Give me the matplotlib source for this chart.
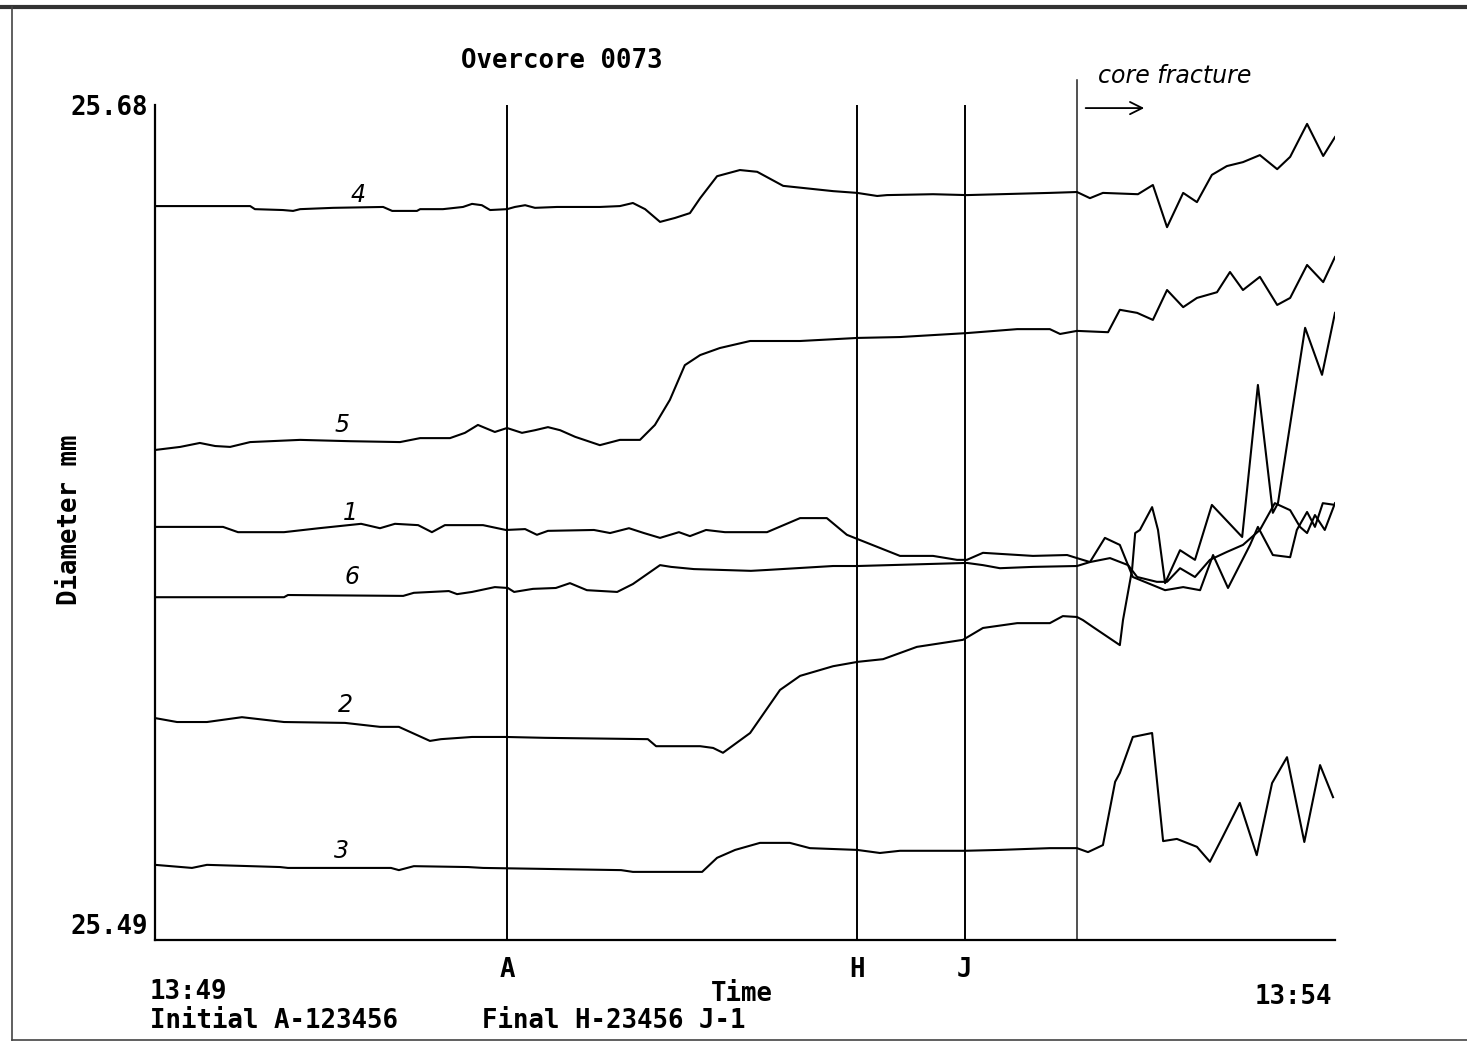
import matplotlib
matplotlib.use('Agg')
import matplotlib.pyplot as plt
from matplotlib.lines import Line2D

# ---------------- data (time in s after 13:49, diameter in mm) ----------------
s4_t = [0, 24.2, 25.4, 32.5, 35.1, 36.9, 45.3, 58.0, 60.3, 66.6, 67.4, 73.2, 78.3, 80.6, 83.1, 85.2,
        89.5, 91.5, 94.1, 96.6, 102.2, 113.1, 118.2, 121.5, 124.6, 128.4, 132.2, 136.0, 138.6, 142.9,
        148.7, 153.1, 159.7, 172.4, 178.5, 183.6, 186.1, 197.8, 206.4, 214.8, 227.5, 234.4, 237.7,
        241.0, 249.9, 253.7, 257.3, 261.4, 264.9, 268.7, 272.5, 276.6, 280.9, 285.3, 288.6, 292.9,
        297.0, 300.0]
s4_v = [25.6570, 25.6570, 25.6563, 25.6561, 25.6559, 25.6563, 25.6566, 25.6568, 25.6559, 25.6559,
        25.6563, 25.6563, 25.6568, 25.6575, 25.6572, 25.6561, 25.6563, 25.6568, 25.6572, 25.6566,
        25.6568, 25.6568, 25.6570, 25.6577, 25.6563, 25.6534, 25.6543, 25.6554, 25.6588, 25.6638,
        25.6652, 25.6648, 25.6616, 25.6604, 25.6600, 25.6593, 25.6595, 25.6597, 25.6595, 25.6597,
        25.6600, 25.6602, 25.6588, 25.6600, 25.6597, 25.6618, 25.6522, 25.6600, 25.6579, 25.6641,
        25.6661, 25.6670, 25.6686, 25.6654, 25.6682, 25.6757, 25.6684, 25.6727]

s5_t = [0, 6.4, 11.4, 15.3, 19.1, 24.2, 36.9, 49.6, 62.3, 67.4, 75.0, 78.8, 82.1, 86.4, 89.5, 93.3,
        96.6, 99.9, 103.0, 106.8, 113.1, 118.2, 123.3, 127.1, 130.9, 134.7, 138.6, 143.6, 151.3,
        164.0, 178.7, 189.4, 206.4, 219.2, 227.5, 230.1, 234.4, 242.3, 245.3, 249.7, 253.7, 257.3,
        261.4, 264.9, 270.0, 273.3, 276.6, 280.9, 285.3, 288.6, 292.9, 297.0, 300.0]
s5_v = [25.6015, 25.6022, 25.6031, 25.6024, 25.6022, 25.6033, 25.6038, 25.6035, 25.6033, 25.6042,
        25.6042, 25.6054, 25.6072, 25.6056, 25.6065, 25.6054, 25.6060, 25.6067, 25.6060, 25.6045,
        25.6026, 25.6038, 25.6038, 25.6072, 25.6129, 25.6208, 25.6231, 25.6247, 25.6263, 25.6263,
        25.6270, 25.6272, 25.6281, 25.6290, 25.6290, 25.6279, 25.6286, 25.6283, 25.6334, 25.6327,
        25.6311, 25.6379, 25.6340, 25.6361, 25.6374, 25.6420, 25.6379, 25.6409, 25.6345, 25.6361,
        25.6436, 25.6397, 25.6454]

s1_t = [0, 17.3, 21.1, 32.8, 41.7, 52.4, 57.2, 61.0, 66.9, 70.4, 73.7, 83.4, 89.2, 94.1, 97.1, 99.9,
        111.6, 115.7, 120.5, 124.3, 128.4, 133.2, 136.0, 140.1, 144.9, 155.6, 164.0, 170.8, 175.9,
        178.7, 189.4, 197.8, 203.9, 206.4, 210.5, 223.2, 231.9, 234.4, 237.7, 241.5, 245.3, 248.6,
        256.8, 261.4, 265.7, 269.0, 272.8, 278.4, 280.4, 284.2, 288.6, 290.3, 292.9, 294.9, 296.9,
        300.0]
s1_v = [25.5840, 25.5840, 25.5828, 25.5828, 25.5837, 25.5847, 25.5837, 25.5847, 25.5844, 25.5828,
        25.5844, 25.5844, 25.5833, 25.5835, 25.5822, 25.5831, 25.5833, 25.5826, 25.5837, 25.5826,
        25.5815, 25.5828, 25.5819, 25.5833, 25.5828, 25.5828, 25.5860, 25.5860, 25.5822, 25.5812,
        25.5774, 25.5774, 25.5765, 25.5765, 25.5781, 25.5774, 25.5776, 25.5769, 25.5760, 25.5815,
        25.5799, 25.5726, 25.5696, 25.5703, 25.5696, 25.5776, 25.5701, 25.5799, 25.5840, 25.5776,
        25.5771, 25.5833, 25.5874, 25.5840, 25.5894, 25.5890]

s6_t = [0, 32.8, 33.8, 63.1, 65.8, 74.7, 76.8, 80.6, 86.4, 89.7, 91.3, 96.1, 101.9, 105.5, 109.8,
        117.5, 121.5, 128.4, 131.2, 137.0, 151.5, 155.6, 172.4, 178.7, 206.4, 210.5, 214.8, 223.2,
        234.4, 237.7, 242.8, 247.4, 249.7, 254.7, 257.3, 260.6, 264.4, 268.2, 272.5, 276.6, 280.9,
        284.7, 288.6, 291.1, 292.9, 294.9, 297.4, 300.0]
s6_v = [25.5680, 25.5680, 25.5685, 25.5683, 25.5690, 25.5694, 25.5687, 25.5692, 25.5703, 25.5701,
        25.5692, 25.5699, 25.5701, 25.5712, 25.5696, 25.5692, 25.5710, 25.5753, 25.5749, 25.5744,
        25.5740, 25.5742, 25.5751, 25.5751, 25.5758, 25.5753, 25.5746, 25.5749, 25.5751, 25.5760,
        25.5769, 25.5753, 25.5726, 25.5715, 25.5715, 25.5746, 25.5726, 25.5765, 25.5783, 25.5799,
        25.5833, 25.5894, 25.5878, 25.5840, 25.5826, 25.5867, 25.5833, 25.5894]

s2_t = [0, 5.6, 13.2, 22.1, 32.8, 48.3, 57.2, 62.0, 69.9, 72.7, 80.6, 89.2, 99.2, 125.3, 127.4,
        138.6, 141.9, 144.4, 151.3, 158.9, 164.0, 172.4, 178.7, 185.1, 193.7, 205.4, 210.5, 219.2,
        227.5, 230.8, 234.4, 235.9, 238.5, 245.3, 246.1, 248.4, 249.2, 250.4, 253.5, 255.0, 256.8,
        260.6, 264.4, 268.7, 276.4, 280.4, 284.2, 285.5, 292.4, 296.7, 300.0]
s2_v = [25.5405, 25.5396, 25.5396, 25.5407, 25.5396, 25.5394, 25.5385, 25.5385, 25.5353, 25.5357,
        25.5362, 25.5362, 25.5360, 25.5357, 25.5341, 25.5341, 25.5337, 25.5326, 25.5371, 25.5469,
        25.5501, 25.5523, 25.5533, 25.5539, 25.5567, 25.5583, 25.5610, 25.5621, 25.5621, 25.5637,
        25.5635, 25.5628, 25.5612, 25.5571, 25.5628, 25.5742, 25.5826, 25.5833, 25.5885, 25.5833,
        25.5712, 25.5787, 25.5765, 25.5890, 25.5817, 25.6163, 25.5872, 25.5894, 25.6293, 25.6186,
        25.6327]

s3_t = [0, 9.4, 13.2, 31.8, 33.8, 60.0, 62.0, 65.8, 79.6, 83.4, 118.5, 121.5, 139.1, 142.9, 147.5,
        153.8, 161.4, 166.5, 178.5, 184.3, 189.4, 205.9, 214.8, 227.5, 234.4, 237.2, 241.0, 244.1,
        245.3, 248.6, 253.5, 256.3, 259.8, 264.9, 268.2, 271.3, 275.8, 280.1, 284.0, 287.8, 292.2,
        296.2, 299.5]
s3_v = [25.5071, 25.5064, 25.5071, 25.5066, 25.5064, 25.5064, 25.5059, 25.5068, 25.5066, 25.5064,
        25.5059, 25.5055, 25.5055, 25.5087, 25.5105, 25.5121, 25.5121, 25.5109, 25.5105, 25.5098,
        25.5103, 25.5103, 25.5105, 25.5109, 25.5109, 25.5100, 25.5116, 25.5260, 25.5280, 25.5362,
        25.5371, 25.5125, 25.5130, 25.5112, 25.5078, 25.5132, 25.5212, 25.5093, 25.5257, 25.5316,
        25.5123, 25.5298, 25.5225]

series_names = ['1', '2', '3', '4', '5', '6']
series_t = [s1_t, s2_t, s3_t, s4_t, s5_t, s6_t]
series_v = [s1_v, s2_v, s3_v, s4_v, s5_v, s6_v]
# hand-written label positions (time s, diameter mm)
label_t = [49.6, 48.3, 47.5, 51.6, 47.5, 50.1]
label_v = [25.5872, 25.5435, 25.5103, 25.6595, 25.6072, 25.5726]

event_names = ['A', 'H', 'J']
event_times = [89.5, 178.5, 205.9]
fracture_time = 234.4

y_min, y_max = 25.49, 25.68
t_start, t_end = 0, 300
time_start_label, time_end_label = '13:49', '13:54'
title = 'Overcore 0073'
note_initial = 'Initial A-123456'
note_final = 'Final H-23456 J-1'

# ---------------- figure ----------------
W, H = 1467, 1043
plt.rcParams['font.family'] = ['DejaVu Sans Mono']
plt.rcParams['font.weight'] = 'bold'
FS = 18.5

fig = plt.figure(figsize=(W / 100, H / 100), dpi=100)
fig.patch.set_facecolor('white')

def fx(px):
    return px / W

def fy(py):
    return 1 - py / H

ax = fig.add_axes([fx(155), fy(940), fx(1335) - fx(155), fy(105) - fy(940)])
ax.set_xlim(t_start, t_end)
ax.set_ylim(y_min, y_max)
for s in ['top', 'right']:
    ax.spines[s].set_visible(False)
for s in ['left', 'bottom']:
    ax.spines[s].set_linewidth(1.6)
    ax.spines[s].set_color('black')

# event lines
ax.vlines(event_times, y_min, y_max, color='black', lw=1.4)
ax.plot([fracture_time, fracture_time], [y_min, 25.6857], color='#222222', lw=1.1,
        clip_on=False)

# data lines
for t, v in zip(series_t, series_v):
    ax.plot(t, v, color='black', lw=1.5, solid_joinstyle='round')

for name, lt, lv in zip(series_names, label_t, label_v):
    ax.text(lt, lv, name, fontsize=17, fontstyle='italic', fontweight='normal',
            family=['DejaVu Sans'], ha='center', va='center')

# ticks
ax.set_xticks(event_times)
ax.set_xticklabels(event_names)
ax.tick_params(axis='x', length=0, pad=12, labelsize=FS)
ax.set_yticks([y_min, y_max])
ax.set_yticklabels(['25.49', '25.68'])
ax.tick_params(axis='y', length=0, pad=5, labelsize=FS)
ax.get_yticklabels()[0].set_va('bottom')

# texts
fig.text(fx(562), fy(61), title, ha='center', va='center', fontsize=FS)
fig.text(fx(70), fy(520), 'Diameter mm', ha='center', va='center', rotation=90, fontsize=FS)
fig.text(fx(150), fy(992), time_start_label, ha='left', va='center', fontsize=FS)
fig.text(fx(1332), fy(997), time_end_label, ha='right', va='center', fontsize=FS)
fig.text(fx(742), fy(994), 'Time', ha='center', va='center', fontsize=FS)
fig.text(fx(150), fy(1021), note_initial, ha='left', va='center', fontsize=FS)
fig.text(fx(482), fy(1021), note_final, ha='left', va='center', fontsize=FS)

# hand-written annotation
fig.text(fx(1175), fy(76), 'core fracture', ha='center', va='center', fontsize=17,
         fontstyle='italic', fontweight='normal', family=['DejaVu Sans'])
ax.annotate('', xy=(252.2, 25.6793), xytext=(235.9, 25.6793),
            arrowprops=dict(arrowstyle='->', lw=1.3, color='black', mutation_scale=22),
            annotation_clip=False)

# scan frame
fig.add_artist(Line2D([0, 1], [fy(7), fy(7)], transform=fig.transFigure, color='#333333', lw=3))
fig.add_artist(Line2D([fx(12), fx(12)], [fy(7), fy(1040)], transform=fig.transFigure,
                      color='#444444', lw=1.2))
fig.add_artist(Line2D([fx(12), 1], [fy(1040), fy(1040)], transform=fig.transFigure,
                      color='#444444', lw=1.2))

fig.savefig('out.png', dpi=100, facecolor='white')
